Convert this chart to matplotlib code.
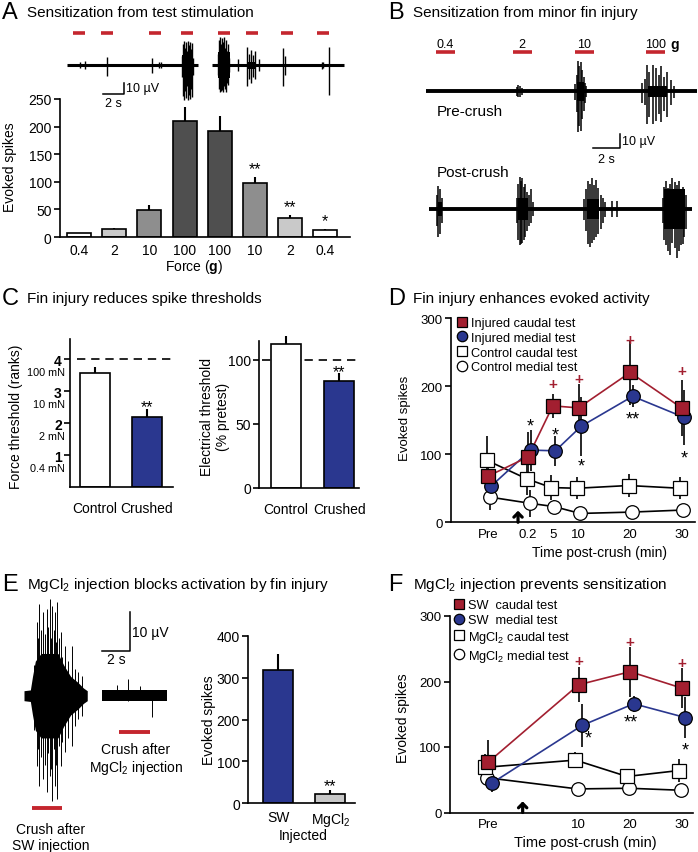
import matplotlib

matplotlib.use("Agg")
import matplotlib.pyplot as plt  # noqa: E402
import numpy as np  # noqa: E402
from matplotlib.lines import Line2D  # noqa: E402

plt.rcParams["font.family"] = ["Liberation Sans", "DejaVu Sans"]
plt.rcParams["font.size"] = 10
plt.rcParams["mathtext.fontset"] = "custom"
plt.rcParams["mathtext.rm"] = "Liberation Sans"
plt.rcParams["mathtext.it"] = "Liberation Sans:italic"
plt.rcParams["mathtext.bf"] = "Liberation Sans:bold"
plt.rcParams["axes.linewidth"] = 1.2

RED = "#a21f30"
STIM_RED = "#c4262e"
BLUE = "#2a378f"
ERR = "#262626"

# ---------------- data ----------------
# A: evoked spikes per force step
a_forces = ["0.4", "2", "10", "100", "100", "10", "2", "0.4"]
a_spikes = [7, 14, 49, 211, 192, 98, 34, 12]
a_err = [1, 3, 9, 24, 28, 11, 6, 3]
a_sig = ["", "", "", "", "", "**", "**", "*"]
a_fill = ["white", "#c9c9c9", "#8e8e8e", "#4f4f4f", "#4f4f4f", "#8e8e8e", "#c9c9c9", "white"]

# A: example trace (time s, up uV, down uV)
a_segments = [(0.0, 12.53), (13.81, 26.44)]
a_stim_on = [0.60, 3.24, 7.87, 10.89, 14.44, 17.08, 20.38, 23.87]
a_trace_spikes = [
    (1.27, 2.6, 2.6), (1.74, 3.4, 3.4), (3.87, 7.4, 9.1), (8.15, 6.0, 6.3),
    (8.75, 2.5, 2.5), (8.95, 2.5, 2.5),
    (10.95, 8, 10), (11.05, 18, 26), (11.15, 21, 30), (11.25, 15, 22), (11.35, 20, 28),
    (11.45, 12, 18), (11.55, 21, 30), (11.65, 17, 25), (11.75, 20, 29), (11.85, 14, 20),
    (11.95, 19, 27), (12.05, 6, 8),
    (14.40, 10, 8), (14.50, 22, 20), (14.60, 24, 23), (14.70, 18, 22), (14.80, 23, 21),
    (14.90, 20, 23), (15.00, 24, 18), (15.10, 15, 20), (15.20, 22, 23), (15.30, 12, 15),
    (15.40, 18, 17), (15.50, 6, 6),
    (16.29, 5, 5),
    (17.20, 16, 18), (17.35, 10, 12), (17.55, 13, 15), (17.75, 9, 10), (17.95, 12, 12),
    (18.30, 5, 5),
    (20.63, 15, 17.7), (20.79, 8, 8),
    (24.29, 3, 3), (24.40, 2.5, 2.5),
    (25.01, 16, 25.6),
]
a_trace_cores = [(10.95, 12.06, 9), (14.38, 15.55, 11), (17.3, 17.9, 3)]

# B: pre / post crush traces
b_stim_on = [0.73, 6.33, 10.88, 16.06]
b_stim_labels = ["0.4", "2", "10", "100"]
b_pre_segment = (0.0, 19.8)
b_pre_spikes = [
    (6.62, 3, 3), (6.75, 4.3, 4), (6.85, 3.5, 4), (6.99, 2.5, 2.5),
    (10.90, 5, 6), (11.00, 12, 15), (11.10, 21.9, 29.3), (11.20, 18, 25), (11.30, 21, 28),
    (11.40, 15, 20), (11.50, 10, 14), (11.60, 6, 8), (11.70, 4, 4),
    (15.74, 6, 8), (16.00, 9, 10), (16.15, 19, 23), (16.30, 14, 18), (16.55, 19, 23.4),
    (16.80, 17, 21), (17.00, 12, 16), (17.15, 18, 22), (17.40, 10, 14), (17.60, 14, 18),
    (17.85, 8, 10), (18.10, 4, 5),
]
b_pre_cores = [(11.0, 11.5, 7), (16.2, 17.6, 4)]
b_post_segment = (0.0, 19.15)
b_post_spikes = [
    (0.54, 10, 12), (0.65, 16.4, 20), (0.80, 14, 18), (0.95, 8, 10),
    (6.38, 8, 10), (6.50, 18, 22), (6.60, 22.9, 25.5), (6.70, 20, 25), (6.80, 22, 24),
    (6.90, 16, 22), (7.00, 18, 20), (7.10, 12, 16), (7.25, 10, 12), (7.40, 14, 10), (7.59, 5, 5),
    (11.29, 7, 8), (11.45, 14, 16), (11.60, 20, 25), (11.75, 18, 27), (11.90, 22, 24),
    (12.05, 17, 22), (12.20, 21, 20), (12.35, 15, 18), (12.50, 10, 14), (12.65, 8, 10),
    (12.82, 5, 6), (13.31, 5.7, 5.7), (13.68, 5.7, 5.7),
    (17.04, 8, 10), (17.15, 16, 22), (17.30, 20, 26), (17.45, 15, 30), (17.60, 18, 33),
    (17.75, 22, 24), (17.90, 19, 28), (18.05, 17, 35), (18.20, 20, 30), (18.35, 14, 26),
    (18.50, 16, 25), (18.62, 12, 20), (18.75, 10, 14),
]
b_post_cores = [(0.6, 0.9, 5), (6.45, 7.2, 8), (11.5, 12.4, 7), (17.1, 18.7, 14)]

# C: thresholds
c_groups = ["Control", "Crushed"]
c_force_rank = [3.56, 2.20]
c_force_err = [0.18, 0.24]
c_rank_names = ["0.4 mN", "2 mN", "10 mN", "100 mN"]
c_elec = [112.5, 83.8]
c_elec_err = [6.0, 6.0]
c_sig = ["", "**"]

# D: time course after fin injury
d_times = [-7.5, 0.2, 5, 10, 20, 30]
d_labels = ["Pre", "0.2", "5", "10", "20", "30"]
inj_caudal = [68, 96, 171, 168, 220, 168]
inj_caudal_err = [22, 37, 18, 35, 48, 41]
inj_medial = [53, 106, 105, 141, 185, 154]
inj_medial_err = [24, 30, 22, 43, 16, 41]
ctl_caudal = [91, 64, 51, 50, 54, 50]
ctl_caudal_err = [35, 24, 18, 16, 17, 16]
ctl_medial = [37, 28, 23, 13, 15, 18]
ctl_medial_err = [19, 20, 10, 8, 8, 8]
d_crush_t = -1.75
d_plus_t = [5, 10, 20, 30]
d_plus_y = [203, 211, 268, 222]
d_star_t = [0.2, 5, 10, 20, 30]
d_star_txt = ["*", "*", "*", "**", "*"]
d_star_y = [141, 128, 82, 151, 94]

# E: MgCl2 block of crush response
e_sw_env_t = [0.0, 0.45, 0.6, 0.8, 1.2, 2.4, 2.8, 3.3, 3.8, 4.2, 4.47]
e_sw_env_h = [1.3, 1.5, 5, 9, 11, 11, 8, 5, 3.5, 2, 1.3]
e_sw_spikes = [
    (0.70, 8, 9), (0.90, 19.1, 18.2), (1.00, 15, 14), (1.08, 23.9, 23.4), (1.20, 17, 16),
    (1.32, 21.7, 21.7), (1.45, 16, 18), (1.60, 22.6, 25.2), (1.70, 18, 15), (1.84, 25.2, 20.8),
    (1.92, 15, 19), (2.00, 23.4, 27.3), (2.10, 17, 14), (2.19, 21.7, 23.4), (2.27, 14, 18),
    (2.35, 24.3, 26.9), (2.47, 15, 13), (2.59, 16.5, 18.2), (2.70, 10, 12), (2.90, 13.0, 14.7),
    (3.10, 9, 11), (3.37, 13.0, 13.0), (3.60, 7, 8), (3.84, 6.1, 6.1), (4.08, 5.2, 5.2),
]
e_mg_segment = (0.0, 4.64)
e_mg_noise = 1.5
e_mg_spikes = [(1.06, 2.8, 1.0), (1.88, 4.35, 1.5), (2.70, 2.6, 1.0), (3.53, 1.2, 5.6)]
e_sw_stim_on = 0.54
e_mg_stim_on = 1.22
e_groups = ["SW", "MgCl$_2$"]
e_spikes = [319, 22]
e_err = [37, 10]
e_sig = ["", "**"]

# F: time course with injection
f_times = [-7.5, 10, 20, 30]
f_labels = ["Pre", "10", "20", "30"]
sw_caudal = [77, 195, 215, 190]
sw_caudal_err = [33, 27, 38, 30]
sw_medial = [45, 133, 166, 145]
sw_medial_err = [14, 33, 12, 31]
mg_caudal = [69, 80, 55, 64]
mg_caudal_err = [20, 12, 9, 17]
mg_medial = [53, 36, 37, 34]
mg_medial_err = [5, 5, 5, 5]
f_crush_t = -0.85
f_plus_t = [10, 20, 30]
f_plus_y = [231, 260, 229]
f_star_t = [11.8, 20.2, 30.7]
f_star_txt = ["*", "**", "*"]
f_star_y = [114, 138, 96]

# ---------------- figure ----------------
W, H = 698, 853
fig = plt.figure(figsize=(W / 100, H / 100), dpi=100)


def px_axes(x0, y0, x1, y1, zorder=1):
    ax = fig.add_axes([x0 / W, 1 - y1 / H, (x1 - x0) / W, (y1 - y0) / H], zorder=zorder)
    ax.patch.set_alpha(0)
    return ax


def ptext(x, y, s, **kw):
    kw.setdefault("ha", "left")
    kw.setdefault("va", "center")
    return fig.text(x / W, 1 - y / H, s, **kw)


def trace_axes(box, origin, px_s, px_uv):
    x0, y0, x1, y1 = box
    ox, oy = origin
    ax = px_axes(x0, y0, x1, y1, zorder=5)
    ax.set_xlim((x0 - ox) / px_s, (x1 - ox) / px_s)
    ax.set_ylim(-(y1 - oy) / px_uv, (oy - y0) / px_uv)
    ax.axis("off")
    return ax


def draw_trace(ax, segments, spikes, cores=(), lw=2.2, spike_lw=0.9):
    for t0, t1 in segments:
        ax.plot([t0, t1], [0, 0], color="k", lw=lw, solid_capstyle="butt")
    for t0, t1, h in cores:
        ax.fill_between([t0, t1], -h, h, color="k", lw=0)
    t, up, dn = (np.array(v, dtype=float) for v in zip(*spikes))
    ax.vlines(t, -dn, up, color="k", lw=spike_lw)


def stim_bars(ax, onsets, dur, y, lw=2.6):
    for t in onsets:
        ax.plot([t, t + dur], [y, y], color=STIM_RED, lw=lw, solid_capstyle="butt")


def scale_bar(ax, x_end, y0, fs, s_off):
    ax.plot([x_end - 2, x_end, x_end], [y0, y0, y0 + 10], color="k", lw=1.1)
    ax.annotate("10 µV", (x_end, y0 + 5), xytext=(1.5, 0), textcoords="offset points",
                va="center", fontsize=fs)
    ax.annotate("2 s", (x_end - 1, y0), xytext=(0, -s_off), textcoords="offset points",
                ha="center", va="center", fontsize=fs)


def style_axes(ax, ylab_size=10, xpad=4):
    for side in ("top", "right"):
        ax.spines[side].set_visible(False)
    ax.tick_params(axis="y", direction="out", length=4, width=1.2, pad=2, labelsize=ylab_size)
    ax.tick_params(axis="x", length=0, pad=xpad, labelsize=ylab_size)


def bars(ax, vals, errs, colors, width, sig, star_off, fs=11.5):
    x = np.arange(len(vals))
    v = np.asarray(vals, dtype=float)
    e = np.asarray(errs, dtype=float)
    ax.vlines(x, v - e, v + e, color="k", lw=1.5, zorder=1, clip_on=False)
    ax.bar(x, v, width=width, color=colors, edgecolor="k", linewidth=1.2, zorder=2)
    for i, s in enumerate(sig):
        if s:
            ax.annotate(s, (i, v[i] + e[i]), xytext=(0, star_off), textcoords="offset points",
                        ha="center", va="center", fontsize=fs)
    return x


# ---- titles ----
for x, y, letter, title in [
    (2, 13, "A", "Sensitization from test stimulation"),
    (388, 13, "B", "Sensitization from minor fin injury"),
    (2, 299, "C", "Fin injury reduces spike thresholds"),
    (388, 299, "D", "Fin injury enhances evoked activity"),
    (2, 585, "E", "MgCl$_2$ injection blocks activation by fin injury"),
    (388, 585, "F", "MgCl$_2$ injection prevents sensitization"),
]:
    ptext(x, y, letter, fontsize=17)
    ptext(x + 25, y, title, fontsize=11)

# ---- A ----
ax = px_axes(60, 100, 350, 238)
x = bars(ax, a_spikes, a_err, a_fill, 0.68, a_sig, 6)
ax.set_xlim(-0.54, 7.7)
ax.set_ylim(0, 250)
ax.set_yticks(range(0, 251, 50))
ax.set_xticks(x)
ax.set_xticklabels(a_forces)
style_axes(ax)
ptext(194, 267, "Force ($\\mathbf{g}$)", ha="center")
ptext(10, 167, "Evoked spikes", rotation=90, ha="center")

ax = trace_axes((55, 22, 350, 110), (66.7, 66.3), 10.5, 1.17)
draw_trace(ax, a_segments, a_trace_spikes, a_trace_cores, spike_lw=1.0)
stim_bars(ax, a_stim_on, 1.13, 27.9)
scale_bar(ax, 5.49, -24.8, 9, 6)

# ---- B ----
ax = trace_axes((420, 35, 698, 160), (426, 92.3), 13.7, 1.4)
draw_trace(ax, [b_pre_segment], b_pre_spikes, b_pre_cores, lw=2.8, spike_lw=1.1)
stim_bars(ax, b_stim_on, 1.38, 27.9)
for t, lab in zip(b_stim_on, b_stim_labels):
    ax.text(t + 0.69, 33.8, lab, ha="center", va="center", fontsize=9)
ax.text(b_stim_on[-1] + 2.1, 33.8, "g", ha="center", va="center", fontsize=10, fontweight="bold")
scale_bar(ax, 14.16, -40.5, 9, 8)
ptext(437, 112, "Pre-crush", fontsize=11)

ax = trace_axes((420, 165, 698, 265), (429.3, 210), 13.7, 1.4)
draw_trace(ax, [b_post_segment], b_post_spikes, b_post_cores, lw=2.8, spike_lw=1.1)
ptext(437, 173, "Post-crush", fontsize=11)

# ---- C ----
ax = px_axes(70, 340, 172.7, 488)
x = bars(ax, c_force_rank, c_force_err, ["white", BLUE], 0.585, c_sig, 2)
ax.plot([-0.35, 1.5], [4, 4], color="k", lw=1.2, ls=(0, (5, 3.5)), clip_on=False, zorder=0)
ax.set_xlim(-0.487, 1.5)
ax.set_ylim(0, 4.63)
ax.set_yticks([1, 2, 3, 4])
ax.set_yticklabels(["1", "2", "3", "4"], fontweight="bold")
ax.set_xticks(x)
ax.set_xticklabels(c_groups)
style_axes(ax, xpad=10)
for r, name in enumerate(c_rank_names, start=1):
    ax.text(-0.05, r - 0.4, name, transform=ax.get_yaxis_transform(), ha="right", va="center",
            fontsize=7.8)
ptext(16, 417, "Force threshold (ranks)", rotation=90, ha="center")

ax = px_axes(259.3, 341.7, 359, 489)
x = bars(ax, c_elec, c_elec_err, ["white", BLUE], 0.563, c_sig, 1)
ax.plot([-0.45, 1.37], [100, 100], color="k", lw=1.2, ls=(0, (5, 3.5)), clip_on=False, zorder=0)
ax.set_xlim(-0.505, 1.366)
ax.set_ylim(0, 115)
ax.set_yticks([0, 50, 100])
ax.set_xticks(x)
ax.set_xticklabels(c_groups)
style_axes(ax, xpad=10)
ptext(215, 417, "Electrical threshold\n(% pretest)", rotation=90, ha="center",
      multialignment="center", linespacing=1.1)


# ---- D / F time courses ----
def time_course(ax, times, series, xlim, labels, fs):
    for vals, errs, marker, face, line, dx in series:
        t = np.asarray(times, dtype=float) + dx
        v = np.asarray(vals, dtype=float)
        e = np.asarray(errs, dtype=float)
        ax.vlines(t, v - e, v + e, color=ERR, lw=1.4, zorder=2)
    for k, (vals, errs, marker, face, line, dx) in enumerate(series):
        t = np.asarray(times, dtype=float) + dx
        ax.plot(t, vals, color=line, lw=1.2, zorder=3)
        ax.plot(t, vals, ls="none", marker=marker, ms=9.8 if marker == "o" else 9.4,
                mfc=face, mec="k", mew=0.9, zorder=4 + k)
    ax.set_xlim(*xlim)
    ax.set_ylim(0, 300)
    ax.set_yticks([0, 100, 200, 300])
    ax.set_xticks(times)
    ax.set_xticklabels(labels)
    style_axes(ax, ylab_size=fs, xpad=4)


def legend(ax, series, names, anchor):
    handles = [Line2D([], [], ls="none", marker=m, ms=7.5, mfc=f, mec="k", mew=0.9)
               for _, _, m, f, _, _ in series]
    ax.legend(handles, names, loc="upper left", bbox_to_anchor=anchor, frameon=False,
              handlelength=0.8, handletextpad=0.3, labelspacing=0.22, borderpad=0,
              borderaxespad=0, fontsize=9.2)


def crush_arrow(ax, t):
    ax.annotate("", xy=(t, 17), xytext=(t, 0),
                arrowprops=dict(arrowstyle="->,head_width=0.3,head_length=0.3", lw=2.3,
                                color="k", shrinkA=0, shrinkB=0))


ax = px_axes(451, 319, 695, 523.3)
d_series = [
    (ctl_medial, ctl_medial_err, "o", "white", "k", 0.3),
    (ctl_caudal, ctl_caudal_err, "s", "white", "k", -0.3),
    (inj_medial, inj_medial_err, "o", BLUE, BLUE, 0.5),
    (inj_caudal, inj_caudal_err, "s", RED, RED, 0.0),
]
time_course(ax, d_times, d_series, (-14.76, 32.6), d_labels, 9.5)
legend(ax, d_series[::-1],
       ["Injured caudal test", "Injured medial test", "Control caudal test", "Control medial test"],
       (0.023, 1.005))
for t, y in zip(d_plus_t, d_plus_y):
    ax.text(t, y, "+", color=RED, ha="center", va="center", fontsize=11, fontweight="bold")
for t, s, y in zip(d_star_t, d_star_txt, d_star_y):
    ax.text(t + 0.5, y, s, ha="center", va="center", fontsize=13)
crush_arrow(ax, d_crush_t)
ptext(405, 418, "Evoked spikes", rotation=90, ha="center", fontsize=9.5)
ptext(600, 553, "Time post-crush (min)", ha="center", fontsize=10)

ax = px_axes(450, 617, 693, 813.5)
f_series = [
    (mg_medial, mg_medial_err, "o", "white", "k", -0.2),
    (mg_caudal, mg_caudal_err, "s", "white", "k", -0.6),
    (sw_medial, sw_medial_err, "o", BLUE, BLUE, 0.7),
    (sw_caudal, sw_caudal_err, "s", RED, RED, 0.0),
]
time_course(ax, f_times, f_series, (-14.95, 32.2), f_labels, 9.5)
legend(ax, f_series[::-1],
       ["SW  caudal test", "SW  medial test", "MgCl$_2$ caudal test", "MgCl$_2$ medial test"],
       (0.016, 1.085))
for t, y in zip(f_plus_t, f_plus_y):
    ax.text(t, y, "+", color=RED, ha="center", va="center", fontsize=11, fontweight="bold")
for t, s, y in zip(f_star_t, f_star_txt, f_star_y):
    ax.text(t, y, s, ha="center", va="center", fontsize=13)
crush_arrow(ax, f_crush_t)
ptext(403, 718, "Evoked spikes", rotation=90, ha="center", fontsize=10)
ptext(585, 843, "Time post-crush (min)", ha="center", fontsize=10.5)

# ---- E ----
ax = trace_axes((12, 590, 95, 820), (24, 696.7), 14.15, 3.84)
env_t = np.asarray(e_sw_env_t)
env_h = np.asarray(e_sw_env_h)
ax.fill_between(env_t, -env_h, env_h, color="k", lw=0)
draw_trace(ax, [], e_sw_spikes, spike_lw=0.7)
stim_bars(ax, [e_sw_stim_on], 2.18, -29.3, lw=2.8)
ptext(51, 838, "Crush after\nSW injection", ha="center", multialignment="center", linespacing=1.15)

ax = trace_axes((95, 600, 190, 745), (101.7, 696.7), 14.15, 3.84)
ax.fill_between(list(e_mg_segment), -e_mg_noise, e_mg_noise, color="k", lw=0)
draw_trace(ax, [], e_mg_spikes, spike_lw=0.7)
stim_bars(ax, [e_mg_stim_on], 2.18, -9.5, lw=2.8)
scale_bar(ax, 2.0, 11.7, 10, 6)
ptext(136, 760, "Crush after\nMgCl$_2$ injection", ha="center", multialignment="center",
      linespacing=1.15)

ax = px_axes(248.3, 636.7, 355, 804.3)
x = bars(ax, e_spikes, e_err, [BLUE, "#c8c8c8"], 0.575, e_sig, 3)
ax.set_xlim(-0.57, 1.47)
ax.set_ylim(0, 400)
ax.set_yticks(range(0, 401, 100))
ax.set_xticks(x)
ax.set_xticklabels(e_groups)
style_axes(ax, xpad=5)
ptext(303, 836, "Injected", ha="center")
ptext(209, 720, "Evoked spikes", rotation=90, ha="center")

fig.savefig("out.png", dpi=100)
